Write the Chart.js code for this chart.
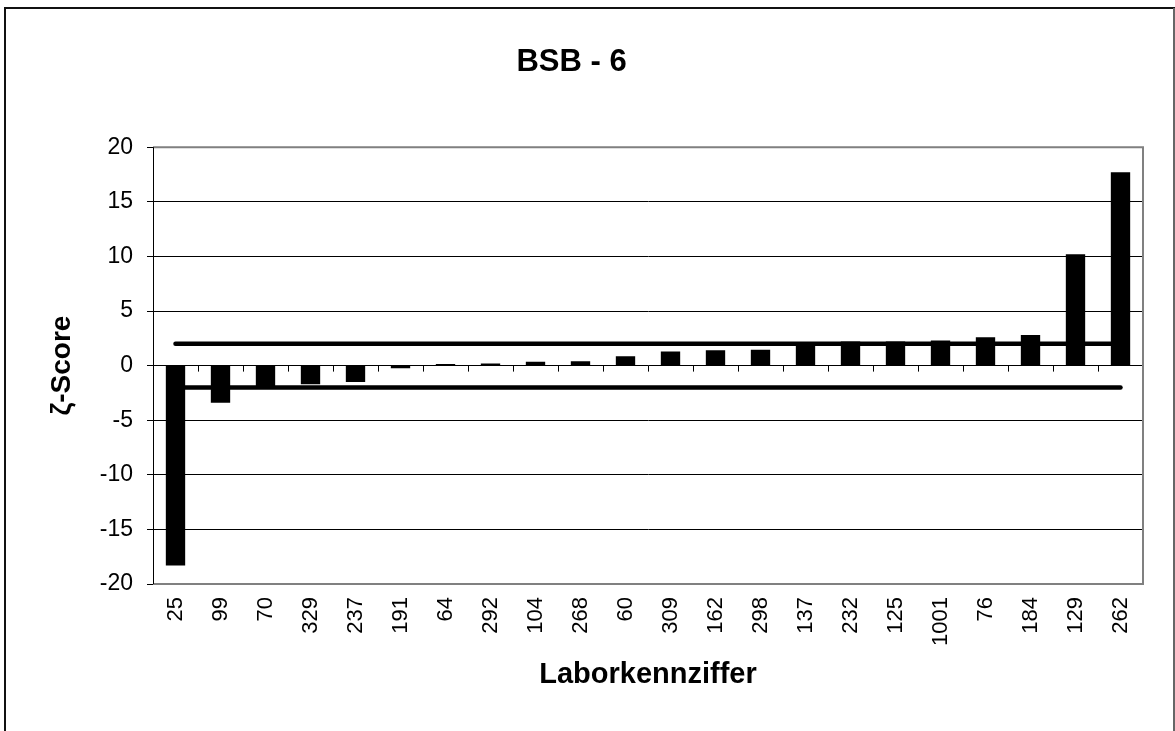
<!DOCTYPE html>
<html>
<head>
<meta charset="utf-8">
<title>BSB - 6</title>
<script src="https://cdn.jsdelivr.net/npm/chart.js@4.4.1/dist/chart.umd.min.js"></script>
<style>
    html, body { margin: 0; padding: 0; background: #fff; }
    #scoreChart { display: block; }
</style>
</head>
<body>
<canvas id="scoreChart" width="1175" height="731"></canvas>
<script>
// Laborkennziffern in plot order
const labCodes = ['25', '99', '70', '329', '237', '191', '64', '292', '104', '268', '60',
    '309', '162', '298', '137', '232', '125', '1001', '76', '184', '129', '262'];
// zeta scores
const zetaScores = [-18.3, -3.4, -1.9, -1.7, -1.5, -0.25, 0.15, 0.2, 0.35, 0.4, 0.85,
    1.3, 1.4, 1.45, 1.8, 2.2, 2.2, 2.3, 2.6, 2.8, 10.2, 17.7];
// limit lines at +2 / -2
const upperLimit = [2, 2, 2, 2, 2, 2, 2, 2, 2, 2, 2, 2, 2, 2, 2, 2, 2, 2, 2, 2, 2, 2];
const lowerLimit = [-2, -2, -2, -2, -2, -2, -2, -2, -2, -2, -2, -2, -2, -2, -2, -2, -2, -2, -2, -2, -2, -2];
const yTicks = [-20, -15, -10, -5, 0, 5, 10, 15, 20];

const fontFamily = "'Liberation Sans', Arial, sans-serif";

// plot frame, zero axis with tick marks, outer chart border
const framePlugin = {
    id: 'framePlugin',
    beforeDatasetsDraw(chart) {
        const ctx = chart.ctx;
        const area = chart.chartArea;
        const x = chart.scales.x;
        const y = chart.scales.y;
        const zeroY = y.getPixelForValue(0);
        ctx.save();
        ctx.strokeStyle = '#000';
        ctx.lineWidth = 1;
        ctx.beginPath();
        for (let i = 0; i < labCodes.length; i++) {
            const bx = Math.round(i < labCodes.length - 1
                ? (x.getPixelForValue(i) + x.getPixelForValue(i + 1)) / 2
                : area.right) + 0.5;
            ctx.moveTo(bx, zeroY);
            ctx.lineTo(bx, zeroY + 6);
        }
        ctx.stroke();
        ctx.restore();
    },
    afterDraw(chart) {
        const ctx = chart.ctx;
        const area = chart.chartArea;
        ctx.save();
        ctx.strokeStyle = '#808080';
        ctx.lineWidth = 2;
        ctx.beginPath();
        ctx.moveTo(area.left, area.top);
        ctx.lineTo(area.right, area.top);
        ctx.lineTo(area.right, area.bottom);
        ctx.lineTo(area.left, area.bottom);
        ctx.stroke();
        // left axis line
        ctx.strokeStyle = '#000';
        ctx.lineWidth = 1;
        ctx.beginPath();
        ctx.moveTo(Math.round(area.left) + 0.5, area.top);
        ctx.lineTo(Math.round(area.left) + 0.5, area.bottom);
        ctx.stroke();
        // outer border of the chart object
        ctx.strokeStyle = '#111';
        ctx.lineWidth = 2;
        ctx.beginPath();
        ctx.moveTo(5, chart.height);
        ctx.lineTo(5, 8);
        ctx.lineTo(chart.width, 8);
        ctx.stroke();
        ctx.strokeStyle = '#666';
        ctx.beginPath();
        ctx.moveTo(1174, 8);
        ctx.lineTo(1174, chart.height);
        ctx.stroke();
        ctx.restore();
    }
};

const ctx = document.getElementById('scoreChart').getContext('2d');
const scoreChart = new Chart(ctx, {
    type: 'bar',
    data: {
        labels: labCodes,
        datasets: [{
            type: 'line',
            label: 'upper',
            data: upperLimit,
            borderColor: '#000',
            borderWidth: 4.5,
            borderCapStyle: 'round',
            pointRadius: 0,
            fill: false,
            order: 1
        }, {
            type: 'line',
            label: 'lower',
            data: lowerLimit,
            borderColor: '#000',
            borderWidth: 4.5,
            borderCapStyle: 'round',
            pointRadius: 0,
            fill: false,
            order: 1
        }, {
            type: 'bar',
            label: 'ζ-Score',
            data: zetaScores,
            backgroundColor: '#000',
            borderWidth: 0,
            categoryPercentage: 1,
            barPercentage: 0.43,
            order: 2
        }]
    },
    options: {
        responsive: false,
        animation: false,
        devicePixelRatio: 1,
        layout: {
            padding: { left: 0, right: 32, top: 0, bottom: 0 }
        },
        plugins: {
            legend: { display: false },
            tooltip: { enabled: false },
            title: {
                display: true,
                text: 'BSB - 6',
                color: '#000',
                font: { family: fontFamily, size: 31, weight: 'bold', lineHeight: 1.2 },
                padding: { top: 44, bottom: 66 }
            }
        },
        scales: {
            x: {
                offset: true,
                grid: { display: false, drawTicks: false },
                border: { display: false },
                ticks: {
                    color: '#000',
                    font: { family: fontFamily, size: 22 },
                    minRotation: 90,
                    maxRotation: 90,
                    autoSkip: false,
                    padding: 13
                },
                title: {
                    display: true,
                    text: 'Laborkennziffer',
                    color: '#000',
                    font: { family: fontFamily, size: 29, weight: 'bold', lineHeight: 1.2 },
                    padding: { top: 0, bottom: 39 }
                },
                afterFit(scale) {
                    scale.height = 147;
                }
            },
            y: {
                min: -20,
                max: 20,
                afterBuildTicks(scale) {
                    scale.ticks = yTicks.map(v => ({ value: v }));
                },
                grid: {
                    color: c => (c.tick && Math.abs(c.tick.value) === 20) ? '#808080' : '#000',
                    tickColor: '#000',
                    lineWidth: 1,
                    tickLength: 6
                },
                border: { display: true, color: '#000', width: 1 },
                ticks: {
                    color: '#000',
                    font: { family: fontFamily, size: 23 },
                    padding: 14
                },
                title: {
                    display: true,
                    text: 'ζ-Score',
                    color: '#000',
                    font: { family: fontFamily, size: 28, weight: 'bold', lineHeight: 1.2 },
                    padding: { top: 45, bottom: 0 }
                },
                afterFit(scale) {
                    scale.width = 153;
                }
            }
        }
    },
    plugins: [framePlugin]
});
</script>
</body>
</html>
